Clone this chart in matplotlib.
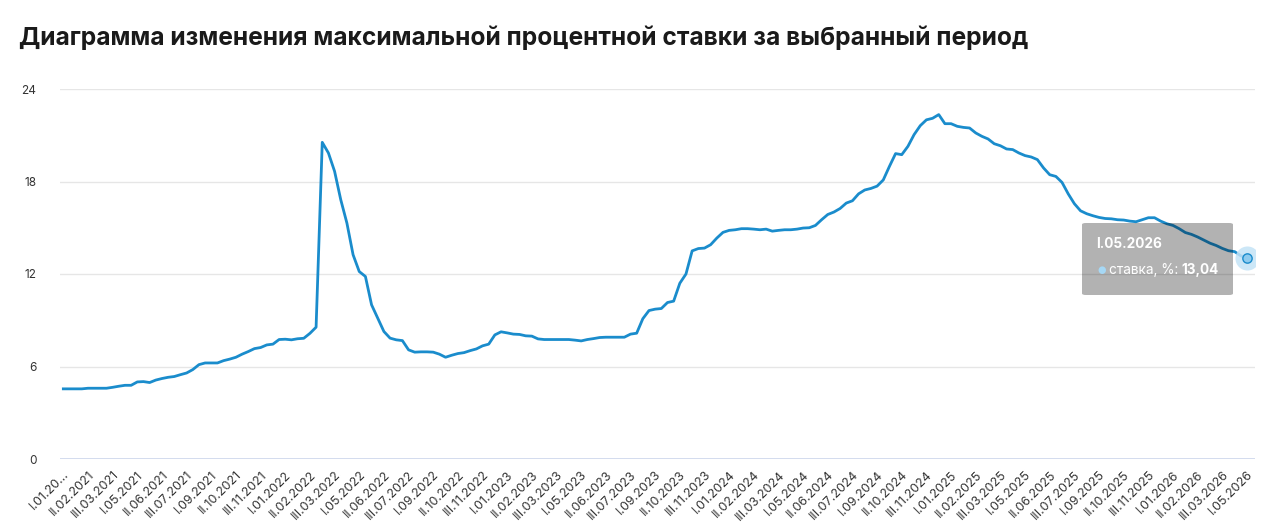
import numpy as np
import matplotlib.pyplot as plt
from matplotlib.patches import FancyBboxPatch

plt.rcParams['font.family'] = ['Inter', 'DejaVu Sans']

# максимальная ставка по декадам, I.01.2021 ... I.05.2026
rate = [
    4.55, 4.55, 4.55, 4.55, 4.59, 4.59, 4.59, 4.59, 4.65, 4.72,
    4.78, 4.78, 5.00, 5.02, 4.96, 5.12, 5.22, 5.30, 5.35, 5.47,
    5.58, 5.80, 6.12, 6.23, 6.23, 6.23, 6.38, 6.48, 6.60, 6.80,
    6.97, 7.16, 7.23, 7.40, 7.45, 7.75, 7.77, 7.73, 7.80, 7.83,
    8.15, 8.55,
    20.54, 19.85, 18.66, 16.82, 15.30, 13.25, 12.16, 11.84, 10.00, 9.13,
    8.27, 7.84, 7.73, 7.68, 7.08, 6.93, 6.95, 6.95, 6.93, 6.80,
    6.60, 6.73, 6.84, 6.90, 7.03, 7.14, 7.34, 7.45,
    8.05, 8.25, 8.18, 8.10, 8.08, 7.99, 7.97, 7.79, 7.75, 7.75,
    7.75, 7.75, 7.75, 7.71, 7.66, 7.75, 7.81, 7.88, 7.90, 7.90,
    7.90, 7.90, 8.10, 8.16, 9.10, 9.63, 9.72, 9.76, 10.15, 10.24,
    11.40, 12.00, 13.50, 13.65, 13.68, 13.90, 14.33, 14.70, 14.83, 14.87,
    14.94, 14.94, 14.91, 14.87, 14.91, 14.78, 14.83, 14.87, 14.87, 14.91,
    14.98, 15.00, 15.15, 15.52, 15.86, 16.02, 16.25, 16.60, 16.75, 17.20,
    17.45, 17.55, 17.70, 18.10, 18.98, 19.81, 19.74, 20.28, 21.04, 21.62,
    22.00, 22.10, 22.34, 21.75, 21.75, 21.58, 21.51, 21.47, 21.15, 20.93,
    20.76, 20.45, 20.32, 20.11, 20.07, 19.85, 19.68, 19.59, 19.42, 18.88,
    18.44, 18.33, 17.94, 17.20, 16.56,
    16.10, 15.91, 15.78, 15.67, 15.60, 15.58, 15.52, 15.50, 15.43, 15.39,
    15.52, 15.65, 15.65, 15.43, 15.26, 15.15, 14.94, 14.69, 14.57, 14.40,
    14.20, 14.00, 13.85, 13.66, 13.51, 13.45, 13.18, 13.04,
]

roman = ['I', 'II', 'III']
decades = []
for i in range(len(rate)):
    decades.append('%s.%02d.%d' % (roman[i % 3], (i // 3) % 12 + 1, 2021 + i // 36))

tick_idx = list(range(0, len(rate), 4))
tick_labels = [decades[i] for i in tick_idx]
tick_labels[0] = 'I.01.20...'
y_ticks = [0, 6, 12, 18, 24]

W, H = 1288, 531
fig = plt.figure(figsize=(W / 100, H / 100), dpi=100)
ax = fig.add_axes([60 / W, 72 / H, 1195 / W, 370 / H])

x = np.arange(len(rate))
line_color = '#1a8ccc'
ax.plot(x, rate, color=line_color, lw=2.0, solid_joinstyle='round', zorder=3)

# последняя точка с подсветкой
ax.scatter([x[-1]], [rate[-1]], s=300, color='#c4e3f6', alpha=0.85, zorder=4, lw=0)
ax.scatter([x[-1]], [rate[-1]], s=45, color='#8ecbee', edgecolor='#1a8ccc', lw=1, zorder=5)

ax.set_xlim(-0.54, 193.3)
ax.set_ylim(0, 24)
ax.set_yticks(y_ticks)
ax.set_yticklabels([str(v) for v in y_ticks])
ax.set_xticks(tick_idx)
ax.set_xticklabels(tick_labels, rotation=45, ha='right', rotation_mode='anchor')
ax.tick_params(axis='both', length=0, colors='#333333')
ax.tick_params(axis='x', pad=7, labelsize=9)
ax.tick_params(axis='y', pad=17, labelsize=8.5)

for v in y_ticks[1:]:
    ax.axhline(v, color='#e6e6e6', lw=1, zorder=1)
ax.axhline(0, color='#ccd6eb', lw=1.2, zorder=2)
for s in ax.spines.values():
    s.set_visible(False)

fig.text(19 / W, 1 - 38 / H, 'Диаграмма изменения максимальной процентной ставки за выбранный период',
         fontsize=17.7, fontweight='bold', color='#1a1a1a', va='center', ha='left')

# подсказка
box = FancyBboxPatch((1082 / W, 1 - 295 / H), 151 / W, 72 / H,
                     boxstyle='round,pad=0,rounding_size=0.003',
                     transform=fig.transFigure, facecolor='black', alpha=0.3,
                     edgecolor='none', zorder=10)
fig.add_artist(box)
fig.text(1096 / W, 1 - 244 / H, decades[-1], color='white', fontsize=9.8, fontweight='bold',
         va='center', ha='left', zorder=11)
fig.text(1097 / W, 1 - 270 / H, '●', color='#a6d8f5', fontsize=7, va='center', ha='left', zorder=11,
         family=['DejaVu Sans'])
fig.text(1109 / W, 1 - 270 / H, 'ставка, %:', color='white', fontsize=9.8,
         va='center', ha='left', zorder=11)
fig.text(1181 / W, 1 - 270 / H, '13,04', color='white', fontsize=9.8, fontweight='bold',
         va='center', ha='left', zorder=11)

fig.savefig('out.png', dpi=100)
